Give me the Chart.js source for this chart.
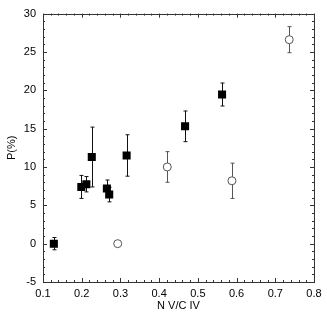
<!DOCTYPE html>
<html>
<head>
<meta charset="utf-8">
<script src="https://cdn.jsdelivr.net/npm/chart.js@4/dist/chart.umd.min.js"></script>
<style>
  html, body { margin: 0; padding: 0; background: #fff; }
  #wrap { width: 327px; height: 316px; }
</style>
</head>
<body>
<div id="wrap"><canvas id="myChart"></canvas></div>
<script>
"use strict";
// filled squares
const SquareX = [0.128, 0.199, 0.212, 0.226, 0.265, 0.271, 0.316, 0.467, 0.5625];
const SquareY = [0, 7.4, 7.75, 11.3, 7.2, 6.4, 11.5, 15.3, 19.45];
const SquareErr = [0.8, 1.5, 1.0, 3.9, 1.1, 0.95, 2.7, 2.0, 1.5];
// open circles
const CircleX = [0.293, 0.421, 0.588, 0.736];
const CircleY = [0, 10.0, 8.2, 26.6];
const CircleErr = [0, 2.0, 2.3, 1.7];

const XTicks = [0.1, 0.2, 0.3, 0.4, 0.5, 0.6, 0.7, 0.8];
const YTicks = [-5, 0, 5, 10, 15, 20, 25, 30];

function toPoints(xs, ys, errs) {
    let pts = [];
    for (let i = 0; i < xs.length; i++) {
        pts.push({ x: xs[i], y: ys[i], err: errs[i] });
    }
    return pts;
}

// error bars drawn under the markers
const errorBars = {
    id: 'errorBars',
    beforeDatasetsDraw(chart) {
        const ctx = chart.ctx;
        const xs = chart.scales.x, ys = chart.scales.y;
        chart.data.datasets.forEach(function (ds) {
            ctx.save();
            ctx.strokeStyle = ds.errColor;
            ctx.lineWidth = 1;
            ds.data.forEach(function (p) {
                if (!p.err) return;
                const px = Math.round(xs.getPixelForValue(p.x)) + 0.5;
                const top = ys.getPixelForValue(p.y + p.err);
                const bot = ys.getPixelForValue(p.y - p.err);
                ctx.beginPath();
                ctx.moveTo(px, top); ctx.lineTo(px, bot);
                ctx.moveTo(px - 2, top); ctx.lineTo(px + 2, top);
                ctx.moveTo(px - 2, bot); ctx.lineTo(px + 2, bot);
                ctx.stroke();
            });
            ctx.restore();
        });
    }
};

// frame with inward ticks on all four sides
const frameTicks = {
    id: 'frameTicks',
    afterDraw(chart) {
        const ctx = chart.ctx;
        const a = chart.chartArea;
        const xs = chart.scales.x, ys = chart.scales.y;
        ctx.save();
        ctx.strokeStyle = '#333';
        ctx.lineWidth = 1;
        ctx.strokeRect(Math.round(a.left) + 0.5, Math.round(a.top) + 0.5,
            Math.round(a.right - a.left), Math.round(a.bottom - a.top));
        ctx.beginPath();
        for (let i = 0; i <= 35; i++) {
            const v = 0.1 + i * 0.02;
            const px = Math.round(xs.getPixelForValue(v)) + 0.5;
            const len = (i % 5 === 0) ? 4 : 2;
            ctx.moveTo(px, a.bottom); ctx.lineTo(px, a.bottom - len);
            ctx.moveTo(px, a.top); ctx.lineTo(px, a.top + len);
        }
        for (let i = 0; i <= 35; i++) {
            const v = -5 + i;
            const py = Math.round(ys.getPixelForValue(v)) + 0.5;
            const len = (i % 5 === 0) ? 4 : 2;
            ctx.moveTo(a.left, py); ctx.lineTo(a.left + len, py);
            ctx.moveTo(a.right, py); ctx.lineTo(a.right - len, py);
        }
        ctx.stroke();
        ctx.restore();
    }
};

const data = {
    datasets: [{
        label: 'filled',
        data: toPoints(SquareX, SquareY, SquareErr),
        pointStyle: 'rect',
        pointRadius: 5.7,
        backgroundColor: '#000',
        borderColor: '#000',
        borderWidth: 0,
        errColor: '#111'
    }, {
        label: 'open',
        data: toPoints(CircleX, CircleY, CircleErr),
        pointStyle: 'circle',
        pointRadius: 4,
        backgroundColor: '#fff',
        borderColor: '#555',
        borderWidth: 1,
        errColor: '#555'
    }]
};

const font = { family: 'Liberation Sans, Arial, sans-serif', size: 11 };

const config = {
    type: 'scatter',
    data: data,
    plugins: [errorBars, frameTicks],
    options: {
        responsive: true,
        maintainAspectRatio: false,
        animation: false,
        layout: { padding: { top: 11, right: 13, left: 0, bottom: 0 } },
        plugins: { legend: { display: false }, tooltip: { enabled: false } },
        scales: {
            x: {
                type: 'linear', min: 0.1, max: 0.8,
                afterBuildTicks: function (s) { s.ticks = XTicks.map(v => ({ value: v })); },
                afterFit: function (s) { s.height = 34; },
                grid: { display: false, drawTicks: false },
                border: { display: false },
                ticks: { color: '#000', font: font, padding: 5, maxRotation: 0,
                    callback: v => v.toFixed(1) },
                title: { display: true, text: 'N V/C IV', color: '#000', font: font,
                    padding: { top: 0, bottom: 3 } }
            },
            y: {
                type: 'linear', min: -5, max: 30,
                afterBuildTicks: function (s) { s.ticks = YTicks.map(v => ({ value: v })); },
                afterFit: function (s) { s.width = 43; },
                grid: { display: false, drawTicks: false },
                border: { display: false },
                ticks: { color: '#000', font: font, padding: 7,
                    callback: v => String(v) },
                title: { display: true, text: 'P(%)', color: '#000', font: font,
                    padding: { top: 5, bottom: 0 } }
            }
        }
    }
};

const myChart = new Chart(document.getElementById('myChart'), config);
</script>
</body>
</html>
